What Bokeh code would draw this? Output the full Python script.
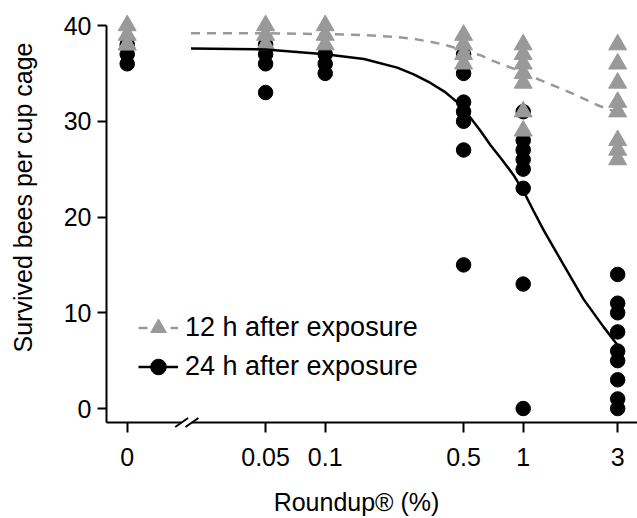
import math
from bokeh.plotting import figure
from bokeh.models import Range1d, FixedTicker, Legend, LegendItem
from bokeh.core.properties import value
from bokeh.embed import file_html
from bokeh.resources import INLINE

# ---------------- data ----------------
dose_ticks = [0, 0.05, 0.1, 0.5, 1, 3]
tick_labels = ["0", "0.05", "0.1", "0.5", "1", "3"]
ZERO_AT = 0.01      # where the control (0 %) is placed on the log axis
BREAK_AT = 0.02     # axis break between control and 0.05 %

# 12 h after exposure (grey triangles)
h12_dose = [0, 0, 0, 0, 0.05, 0.05, 0.05, 0.1, 0.1, 0.1,
            0.5, 0.5, 0.5, 0.5,
            1, 1, 1, 1, 1, 1, 1,
            3, 3, 3, 3, 3, 3, 3, 3]
h12_bees = [40, 39, 38, 38, 40, 39, 38, 40, 39, 38,
            39, 38, 37, 36,
            38, 37, 36, 35, 34, 31, 29,
            38, 36, 34, 32, 31, 28, 27, 26]

# 24 h after exposure (black circles)
h24_dose = [0, 0, 0, 0.05, 0.05, 0.05, 0.05, 0.1, 0.1, 0.1,
            0.5, 0.5, 0.5, 0.5, 0.5, 0.5, 0.5,
            1, 1, 1, 1, 1, 1, 1, 1,
            3, 3, 3, 3, 3, 3, 3, 3, 3]
h24_bees = [38, 37, 36, 38, 37, 36, 33, 37, 36, 35,
            37, 35, 32, 31, 30, 27, 15,
            31, 28, 27, 26, 25, 23, 13, 0,
            14, 11, 10, 8, 6, 5, 3, 1, 0]

# fitted dose-response curves
fit12_dose = [0.021, 0.05, 0.1, 0.157, 0.231, 0.28, 0.34, 0.4, 0.464, 0.5,
              0.608, 0.684, 0.893, 1.0, 1.22, 1.73, 2.36, 3.0]
fit12_bees = [39.2, 39.2, 39.1, 39.0, 38.8, 38.6, 38.3, 38.0, 37.6, 37.4,
              36.9, 36.4, 35.5, 35.1, 34.3, 33.0, 31.7, 30.9]

fit24_dose = [0.021, 0.05, 0.1, 0.157, 0.231, 0.28, 0.34, 0.4, 0.464, 0.5,
              0.608, 0.684, 0.78, 0.893, 1.015, 1.13, 1.27, 1.6, 2.02, 2.55,
              3.0]
fit24_bees = [37.6, 37.5, 37.0, 36.5, 35.6, 34.9, 34.0, 33.1, 32.0, 31.3,
              29.0, 27.5, 26.0, 24.4, 22.5, 20.6, 18.6, 15.0, 11.4, 8.5,
              6.6]

x_title = "Roundup® (%)"
y_title = "Survived bees per cup cage"

# ---------------- layout / styling ----------------
FONT = "Liberation Sans"
GREY = "#999999"
Y_LO, Y_HI = -1.46, 42.09
X_LO, X_HI = 0.00786, 3.778
FRAME_L, FRAME_T, FRAME_W, FRAME_H = 106, 5, 531, 417


def pos(d):
    return ZERO_AT if d == 0 else d


def sx_to_x(sx):
    a, b = math.log10(X_LO), math.log10(X_HI)
    return 10 ** (a + (sx - FRAME_L) / FRAME_W * (b - a))


def sy_to_y(sy):
    return Y_HI - (sy - FRAME_T) / FRAME_H * (Y_HI - Y_LO)


p = figure(width=637, height=518, frame_width=FRAME_W, frame_height=FRAME_H,
           min_border_left=FRAME_L, min_border_right=0,
           min_border_top=FRAME_T, min_border_bottom=518 - FRAME_T - FRAME_H,
           x_axis_type="log",
           x_range=Range1d(X_LO, X_HI), y_range=Range1d(Y_LO, Y_HI),
           output_backend="svg", toolbar_location=None)
p.outline_line_color = None
p.grid.grid_line_color = None
p.background_fill_color = "white"
p.border_fill_color = "white"

# axes
xa = p.xaxis[0]
xa.ticker = FixedTicker(ticks=[pos(d) for d in dose_ticks])
xa.major_label_overrides = {pos(d): t for d, t in zip(dose_ticks, tick_labels)}
ya = p.yaxis[0]
ya.ticker = FixedTicker(ticks=[0, 10, 20, 30, 40])
ya.bounds = (Y_LO, 40)
for ax in (xa, ya):
    ax.axis_line_width = 2
    ax.axis_line_color = "black"
    ax.major_tick_line_width = 2
    ax.major_tick_line_color = "black"
    ax.major_tick_in = 0
    ax.minor_tick_line_color = None
    ax.major_label_text_font = FONT
    ax.major_label_text_font_size = "25px"
    ax.major_label_text_color = "black"
xa.major_tick_out = 10
xa.major_label_standoff = 15
ya.major_tick_out = 9
ya.major_label_standoff = 6

# points
s24 = p.scatter([pos(d) for d in h24_dose], h24_bees, marker="circle",
                size=14.5, fill_color="black", line_color="black")
s12 = p.scatter([pos(d) for d in h12_dose], h12_bees, marker="triangle",
                size=18, fill_color=GREY, line_color=GREY)

# fitted curves
l12 = p.line(fit12_dose, fit12_bees, line_color=GREY, line_width=2.5,
             line_dash="9 7")
l24 = p.line(fit24_dose, fit24_bees, line_color="black", line_width=2.5)

# axis break "//"
lb = math.log10(BREAK_AT)
c1, c2 = 10 ** (lb - 0.026), 10 ** (lb + 0.026)
hw = 0.0326
dy = 0.47
p.segment(x0=[c1], y0=[Y_LO], x1=[c2], y1=[Y_LO], line_color="white",
          line_width=4, level="overlay")
p.segment(x0=[10 ** (lb - 0.026 - hw), 10 ** (lb + 0.026 - hw)],
          y0=[Y_LO - dy, Y_LO - dy],
          x1=[10 ** (lb - 0.026 + hw), 10 ** (lb + 0.026 + hw)],
          y1=[Y_LO + dy, Y_LO + dy],
          line_color="black", line_width=2, level="overlay")

# legend
legend = Legend(items=[
    LegendItem(label="12 h after exposure", renderers=[l12, s12]),
    LegendItem(label="24 h after exposure", renderers=[l24, s24]),
], location=(32, 36))
legend.background_fill_alpha = 0
legend.border_line_color = None
legend.padding = 0
legend.margin = 0
legend.spacing = 0
legend.glyph_width = 40
legend.glyph_height = 39
legend.label_height = 20
legend.label_standoff = 7
legend.label_text_font = FONT
legend.label_text_font_size = "27px"
legend.label_text_color = "black"
p.add_layout(legend)

# axis titles (text glyphs drawn unclipped outside the frame)
p.text(x=[sx_to_x(356)], y=[sy_to_y(501)], text=[x_title],
       text_align="center", text_baseline="alphabetic",
       text_font=value(FONT), text_font_size="25px", text_color="black",
       level="overlay")
p.text(x=[sx_to_x(22)], y=[sy_to_y(197)], text=[y_title],
       angle=math.pi / 2, text_align="center", text_baseline="alphabetic",
       text_font=value(FONT), text_font_size="25px", text_color="black",
       level="overlay")

open("out.html", "w").write(file_html(p, INLINE))
